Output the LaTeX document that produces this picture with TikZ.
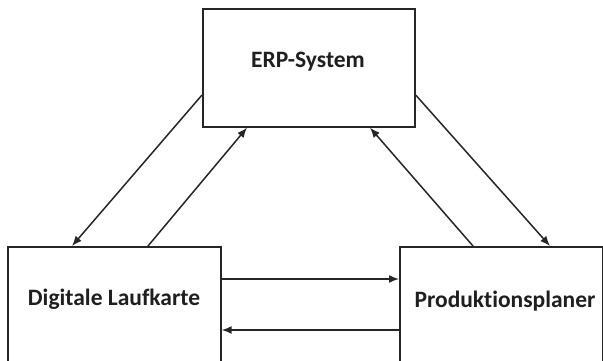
\documentclass[tikz,border=0pt]{standalone}
\usepackage{fontspec}
\setmainfont{Carlito}[Ligatures=NoCommon]
\usetikzlibrary{arrows.meta,calc}
\begin{document}
\begin{tikzpicture}[x=1pt,y=-1pt,
  box/.style={draw=black!85, line width=1.7pt, fill=white, inner sep=0pt, anchor=north west},
  label/.style={font=\fontsize{23.5}{28}\selectfont\bfseries, text=black!88, inner sep=0pt},
  flow/.style={draw=black!85, line width=1.5pt, -{Latex[length=10pt,width=8pt]}}]
  \useasboundingbox (0,0) rectangle (603,361);
  \clip (0,0) rectangle (603,361);
  % the three components
  \node[box, minimum width=212pt, minimum height=118pt] (erp) at (202,8) {};
  \node[box, minimum width=213pt, minimum height=140pt] (dl) at (7,246) {};
  \node[box, minimum width=203pt, minimum height=140pt] (pp) at (399,246) {};
  \node[label] (erpt) at (308,62) {ERP-System};
  \node[label] (dlt) at (114,299) {Digitale Laufkarte};
  \node[label] (ppt) at (505,301) {Produktionsplaner};
  % attachment points on the box borders
  \coordinate (erpL) at ($(erp.north west)+(0,87)$);
  \coordinate (erpR) at ($(erp.north east)+(0,87)$);
  \coordinate (erpB1) at ($(erp.south west)+(45,0)$);
  \coordinate (erpB2) at ($(erp.south west)+(168,0)$);
  \coordinate (dlT1) at ($(dl.north west)+(65,0)$);
  \coordinate (dlT2) at ($(dl.north west)+(141,0)$);
  \coordinate (dlR1) at ($(dl.north east)+(0,33)$);
  \coordinate (dlR2) at ($(dl.north east)+(0,84)$);
  \coordinate (ppT1) at ($(pp.north west)+(74,0)$);
  \coordinate (ppT2) at ($(pp.north west)+(151,0)$);
  \coordinate (ppL1) at ($(pp.north west)+(0,33)$);
  \coordinate (ppL2) at ($(pp.north west)+(0,84)$);
  % information flows
  \draw[flow] (erpL) -- (dlT1);
  \draw[flow] (dlT2) -- (erpB1);
  \draw[flow] (ppT1) -- (erpB2);
  \draw[flow] (erpR) -- (ppT2);
  \draw[flow] (dlR1) -- (ppL1);
  \draw[flow] (ppL2) -- (dlR2);
\end{tikzpicture}
\end{document}
